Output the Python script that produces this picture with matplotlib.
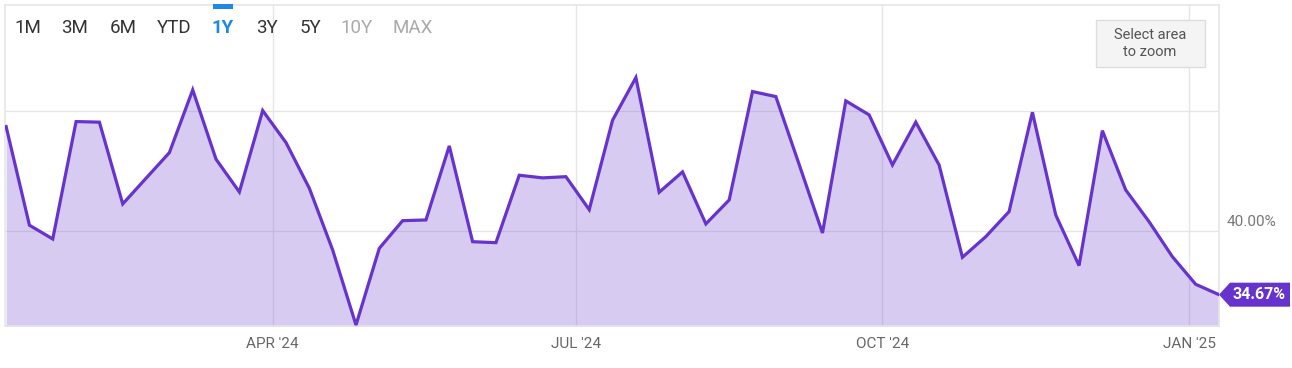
import numpy as np
import pandas as pd
import matplotlib
matplotlib.use("Agg")
import matplotlib.pyplot as plt
import matplotlib.dates as mdates
from matplotlib.patches import Polygon, Rectangle
from matplotlib.transforms import IdentityTransform

plt.rcParams['font.family'] = ['Roboto', 'DejaVu Sans']

# weekly readings, Jan 12 2024 .. Jan 10 2025
dates = pd.date_range("2024-01-12", "2025-01-10", freq="W-FRI")
values = [48.73, 40.48, 39.33, 49.15, 49.10, 42.26, 44.41, 46.55, 51.80, 46.00,
          43.26, 50.07, 47.39, 43.57, 38.41, 32.13, 38.55, 40.86, 40.92, 47.11,
          39.10, 39.02, 44.66, 44.44, 44.54, 41.78, 49.26, 52.83, 43.24, 44.94,
          40.59, 42.59, 51.66, 51.24, 45.56, 39.83, 50.88, 49.71, 45.52, 49.10,
          45.52, 37.80, 39.52, 41.62, 49.93, 41.34, 37.10, 48.39, 43.43, 40.78,
          37.85, 35.54, 34.67]
month_ticks = pd.to_datetime(["2024-04-01", "2024-07-01", "2024-10-01", "2025-01-01"])
month_labels = ["APR '24", "JUL '24", "OCT '24", "JAN '25"]
range_buttons = ["1M", "3M", "6M", "YTD", "1Y", "3Y", "5Y", "10Y", "MAX"]
button_x = [28, 75, 123, 174, 223, 267, 310, 357, 413]

W, H = 1292, 368
line_c = "#6633cc"
grid_c = "#e6e6e6"

fig = plt.figure(figsize=(W / 100, H / 100), dpi=100)
ax = fig.add_axes([5 / W, 42 / H, 1214 / W, 321 / H])

ax.plot(dates, values, color=line_c, lw=2.3, zorder=3, solid_joinstyle="miter")
ax.fill_between(dates, values, 30, color=line_c, alpha=0.25, lw=0, zorder=2)

ax.set_xlim(dates[0] - pd.Timedelta(hours=8), dates[-1])
ax.set_ylim(32.05, 58.9)

ax.set_xticks(month_ticks)
ax.set_xticklabels(month_labels)
ax.set_yticks([40, 50])
ax.grid(True, color=grid_c, lw=1.0, zorder=1)
ax.tick_params(length=0, labelsize=11, colors="#666666", pad=8)
ax.tick_params(axis="y", labelleft=False)
for s in ax.spines.values():
    s.set_color(grid_c)
    s.set_linewidth(1.2)

def px(x, y):
    return x / W, 1 - y / H

fig.text(*px(1227, 222), "40.00%", fontsize=11, color="#777777", va="center", ha="left")

# range selector
for lbl, bx in zip(range_buttons, button_x):
    col = "#333333"
    if lbl == "1Y":
        col = "#1e88e5"
    elif lbl in ("10Y", "MAX"):
        col = "#aaaaaa"
    fig.text(*px(bx, 28), lbl, fontsize=13.5, color=col, ha="center", va="center",
             fontweight="bold" if lbl == "1Y" else "normal")
fig.patches.append(Rectangle(px(213, 8.5), 20 / W, 4 / H, transform=fig.transFigure,
                             color="#1e88e5", lw=0))

# zoom hint box
fig.patches.append(Rectangle(px(1096, 67), 109 / W, 47 / H, transform=fig.transFigure,
                             facecolor="#f4f4f4", edgecolor="#dddddd", lw=1))
fig.text(*px(1150, 43.5), "Select area\nto zoom", fontsize=10.5, color="#555555",
         ha="center", va="center", linespacing=1.2)

# last value tag
fig.canvas.draw()
tx, ty = ax.transData.transform((mdates.date2num(dates[-1]), values[-1]))
tag = Polygon([(tx, ty), (tx + 11, ty + 12), (tx + 71, ty + 12),
               (tx + 71, ty - 12), (tx + 11, ty - 12)], closed=True,
              transform=IdentityTransform(), facecolor=line_c, edgecolor="none")
fig.patches.append(tag)
fig.text((tx + 40) / W, ty / H, f"{values[-1]:.2f}%", color="white", fontsize=11.5,
         fontweight="bold", ha="center", va="center")

fig.savefig("out.png", dpi=100)
